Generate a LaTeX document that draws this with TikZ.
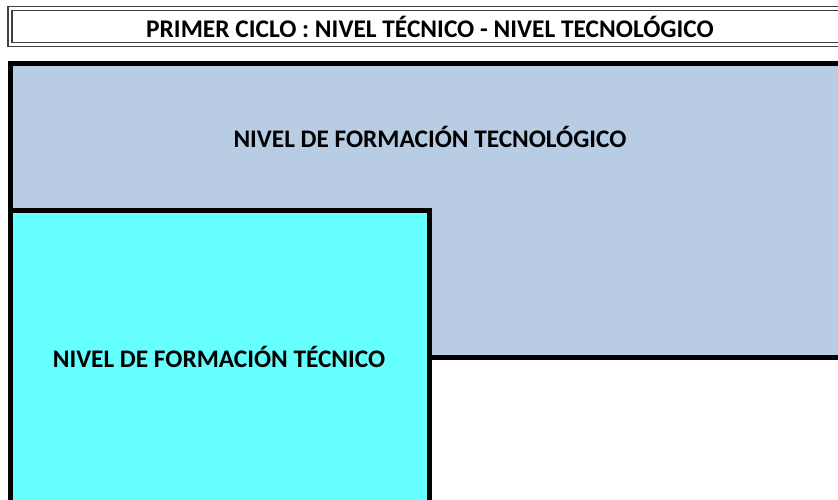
\documentclass[tikz,border=0pt]{standalone}
\usepackage{fontspec}
\setmainfont{Carlito}
\definecolor{techblue}{HTML}{B8CCE4}
\definecolor{techcyan}{HTML}{66FFFF}
\tikzset{
  box/.style={draw=black, line width=5pt},
  lbl/.style={font=\bfseries\fontsize{25.3}{30}\selectfont, text=black, inner sep=0pt},
  ttl/.style={font=\bfseries\fontsize{25.4}{30}\selectfont, text=black, inner sep=0pt}
}
\begin{document}
\begin{tikzpicture}[x=1pt,y=-1pt]
\useasboundingbox (0,0) rectangle (838,500);
\clip (0,0) rectangle (838,500);
\fill[white] (0,0) rectangle (838,500);
% title double box
\draw[line width=1.2pt, black!75] (8,6.5) rectangle (860,46.5);
\draw[line width=1.2pt, black!75] (12,10.5) rectangle (856,42.5);
\node[ttl] (title) at (430,27) {PRIMER CICLO : NIVEL TÉCNICO - NIVEL TECNOLÓGICO};
% blue rectangle
\draw[box, fill=techblue] (10.5,63.5) rectangle (870,357);
\node[lbl] (tec) at (430,137) {NIVEL DE FORMACIÓN TECNOLÓGICO};
% cyan rectangle
\draw[box, fill=techcyan] (10.5,210.5) rectangle (429,530);
\node[lbl] (tecn) at (219,357) {NIVEL DE FORMACIÓN TÉCNICO};
\end{tikzpicture}
\end{document}
